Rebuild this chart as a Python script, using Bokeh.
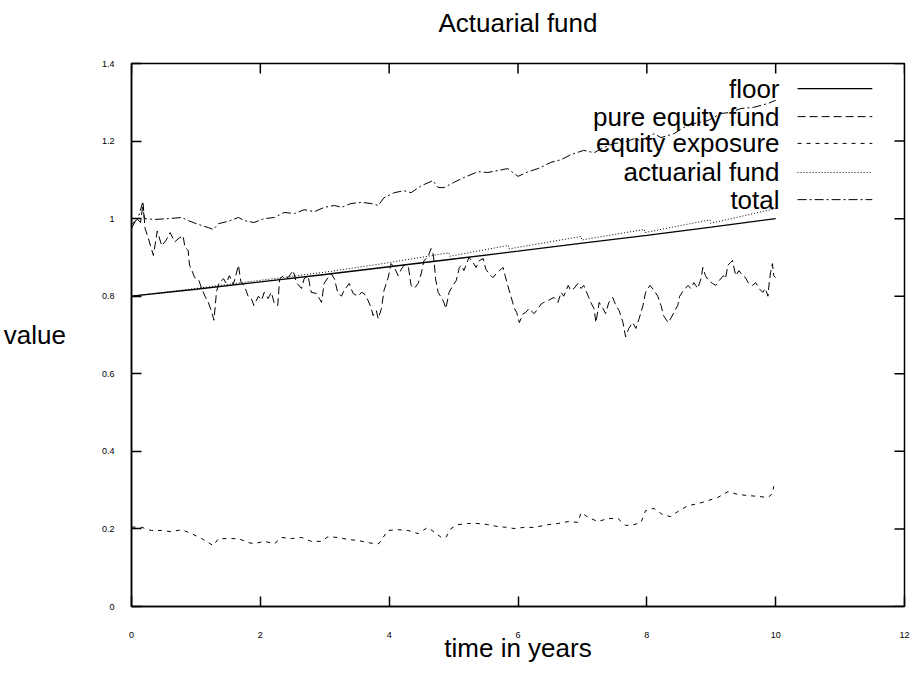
import math
from bokeh.plotting import figure
from bokeh.models import Range1d, FixedTicker, Label, LinearAxis
from bokeh.embed import file_html
from bokeh.resources import INLINE

# ---------------- data ----------------
x_ticks = [0, 2, 4, 6, 8, 10, 12]
x_tick_labels = ["0", "2", "4", "6", "8", "10", "12"]
y_ticks = [0, 0.2, 0.4, 0.6, 0.8, 1.0, 1.2, 1.4]
y_tick_labels = ["0", "0.2", "0.4", "0.6", "0.8", "1", "1.2", "1.4"]

floor_t = [0, 1, 2, 3, 4, 5, 6, 7, 8, 9, 10]
floor_v = [0.800, 0.818, 0.837, 0.856, 0.876, 0.896, 0.916, 0.937, 0.957, 0.978, 1.000]

equity_t = [0.00, 0.08, 0.14, 0.18, 0.21, 0.26, 0.34, 0.40, 0.47, 0.54, 0.60, 0.67, 0.74, 0.80,
            0.83, 0.88, 0.90, 0.93, 0.98, 1.04, 1.09, 1.14, 1.19, 1.24, 1.28, 1.32, 1.36, 1.43,
            1.47, 1.52, 1.58, 1.63, 1.66, 1.70, 1.75, 1.81, 1.86, 1.90, 1.97, 2.02, 2.06, 2.12,
            2.17, 2.22, 2.27, 2.30, 2.36, 2.43, 2.51, 2.56, 2.64, 2.68, 2.74, 2.79, 2.87, 2.95,
            2.99, 3.05, 3.10, 3.15, 3.20, 3.26, 3.30, 3.38, 3.44, 3.52, 3.57, 3.61, 3.67, 3.72,
            3.75, 3.80, 3.83, 3.88, 3.92, 3.98, 4.03, 4.08, 4.14, 4.19, 4.23, 4.30, 4.34, 4.39,
            4.45, 4.50, 4.54, 4.60, 4.65, 4.68, 4.70, 4.72, 4.76, 4.81, 4.85, 4.88, 4.93, 4.99,
            5.04, 5.09, 5.12, 5.16, 5.24, 5.30, 5.35, 5.40, 5.46, 5.50, 5.55, 5.61, 5.66, 5.71,
            5.77, 5.80, 5.84, 5.89, 5.94, 5.98, 6.02, 6.08, 6.12, 6.17, 6.25, 6.31, 6.36, 6.40,
            6.48, 6.56, 6.62, 6.67, 6.71, 6.78, 6.82, 6.87, 6.93, 6.98, 7.02, 7.09, 7.13, 7.18,
            7.21, 7.26, 7.32, 7.36, 7.41, 7.47, 7.52, 7.57, 7.63, 7.67, 7.72, 7.78, 7.83, 7.88,
            7.94, 7.98, 8.05, 8.11, 8.17, 8.22, 8.26, 8.33, 8.37, 8.42, 8.48, 8.51, 8.57, 8.64,
            8.68, 8.73, 8.79, 8.84, 8.87, 8.91, 8.96, 9.02, 9.07, 9.12, 9.19, 9.22, 9.26, 9.30,
            9.33, 9.38, 9.43, 9.49, 9.53, 9.58, 9.64, 9.69, 9.74, 9.80, 9.84, 9.88, 9.90, 9.92,
            9.95, 9.97, 10.00]
equity_v = [0.975, 1.000, 0.990, 1.040, 0.975, 0.950, 0.905, 0.968, 0.930, 0.945, 0.964, 0.940, 0.950, 0.956,
            0.926, 0.918, 0.880, 0.870, 0.848, 0.843, 0.820, 0.800, 0.785, 0.762, 0.738, 0.812, 0.835, 0.845,
            0.833, 0.853, 0.830, 0.860, 0.880, 0.835, 0.828, 0.800, 0.794, 0.776, 0.800, 0.790, 0.810, 0.794,
            0.810, 0.780, 0.776, 0.845, 0.853, 0.848, 0.866, 0.835, 0.820, 0.845, 0.853, 0.810, 0.807, 0.784,
            0.833, 0.848, 0.858, 0.845, 0.810, 0.800, 0.815, 0.833, 0.807, 0.800, 0.810, 0.807, 0.790, 0.770,
            0.750, 0.763, 0.742, 0.768, 0.815, 0.845, 0.884, 0.874, 0.853, 0.870, 0.880, 0.874, 0.828, 0.820,
            0.833, 0.860, 0.892, 0.900, 0.923, 0.910, 0.887, 0.845, 0.810, 0.797, 0.784, 0.768, 0.810, 0.828,
            0.840, 0.874, 0.880, 0.866, 0.900, 0.887, 0.874, 0.892, 0.897, 0.870, 0.858, 0.848, 0.858, 0.866,
            0.874, 0.853, 0.828, 0.800, 0.770, 0.758, 0.732, 0.755, 0.758, 0.768, 0.755, 0.768, 0.780, 0.784,
            0.790, 0.797, 0.784, 0.810, 0.800, 0.828, 0.815, 0.820, 0.833, 0.820, 0.828, 0.800, 0.784, 0.768,
            0.732, 0.784, 0.768, 0.755, 0.784, 0.797, 0.776, 0.763, 0.732, 0.695, 0.717, 0.732, 0.717, 0.742,
            0.776, 0.810, 0.828, 0.815, 0.800, 0.776, 0.750, 0.732, 0.742, 0.758, 0.776, 0.800, 0.815, 0.828,
            0.820, 0.835, 0.820, 0.845, 0.874, 0.853, 0.840, 0.833, 0.828, 0.840, 0.853, 0.845, 0.880, 0.887,
            0.892, 0.853, 0.866, 0.853, 0.848, 0.833, 0.828, 0.835, 0.820, 0.810, 0.820, 0.800, 0.835, 0.860,
            0.884, 0.853, 0.848]

exposure_t = [0.00, 0.16, 0.31, 0.47, 0.62, 0.78, 0.93, 1.09, 1.19, 1.27, 1.35, 1.50, 1.66, 1.81,
              1.90, 2.06, 2.22, 2.33, 2.48, 2.64, 2.79, 2.95, 3.05, 3.20, 3.36, 3.52, 3.67, 3.77,
              3.84, 3.98, 4.14, 4.29, 4.45, 4.60, 4.73, 4.81, 4.88, 4.96, 5.07, 5.22, 5.38, 5.53,
              5.69, 5.84, 5.94, 6.09, 6.25, 6.47, 6.62, 6.78, 6.93, 6.98, 7.10, 7.24, 7.40, 7.55,
              7.67, 7.80, 7.91, 7.98, 8.11, 8.26, 8.37, 8.50, 8.64, 8.79, 8.95, 9.10, 9.26, 9.41,
              9.57, 9.72, 9.88, 9.95, 9.97]
exposure_v = [0.205, 0.204, 0.196, 0.196, 0.193, 0.198, 0.188, 0.175, 0.165, 0.157, 0.175, 0.175, 0.175, 0.165,
              0.162, 0.168, 0.162, 0.178, 0.175, 0.178, 0.168, 0.168, 0.180, 0.178, 0.173, 0.170, 0.165, 0.162,
              0.162, 0.196, 0.198, 0.196, 0.188, 0.204, 0.188, 0.178, 0.178, 0.201, 0.211, 0.214, 0.214, 0.211,
              0.206, 0.204, 0.201, 0.204, 0.204, 0.211, 0.214, 0.219, 0.217, 0.242, 0.229, 0.219, 0.227, 0.227,
              0.209, 0.211, 0.217, 0.247, 0.253, 0.235, 0.232, 0.247, 0.260, 0.265, 0.273, 0.281, 0.296, 0.289,
              0.286, 0.284, 0.281, 0.291, 0.310]

actuarial_t = [0.00, 1.00, 2.00, 3.00, 3.90, 4.93, 4.94, 5.85, 5.86, 6.98, 6.99, 7.96, 7.97, 8.98, 8.99, 10.00]
actuarial_v = [0.800, 0.820, 0.841, 0.862, 0.884, 0.912, 0.903, 0.931, 0.922, 0.954, 0.945, 0.972, 0.964, 0.997, 0.988, 1.026]

total_t = [0.00, 0.10, 0.17, 0.20, 0.36, 0.57, 0.78, 0.88, 1.04, 1.19, 1.27, 1.35, 1.50, 1.66,
           1.75, 1.90, 2.06, 2.22, 2.37, 2.53, 2.68, 2.84, 2.99, 3.15, 3.26, 3.41, 3.57, 3.72,
           3.83, 3.92, 4.08, 4.23, 4.34, 4.50, 4.68, 4.76, 4.85, 5.00, 5.16, 5.38, 5.53, 5.69,
           5.84, 6.00, 6.16, 6.31, 6.51, 6.67, 6.82, 7.02, 7.18, 7.33, 7.49, 7.64, 7.80, 7.91,
           8.11, 8.22, 8.42, 8.57, 8.73, 8.95, 9.15, 9.30, 9.46, 9.66, 9.88, 10.00]
total_v = [0.985, 1.000, 1.040, 1.000, 0.998, 1.000, 1.003, 0.995, 0.985, 0.977, 0.972, 0.987, 0.993, 1.003,
           0.995, 0.990, 1.000, 1.003, 1.016, 1.013, 1.023, 1.018, 1.029, 1.034, 1.029, 1.039, 1.042, 1.039,
           1.034, 1.054, 1.067, 1.072, 1.067, 1.085, 1.098, 1.080, 1.080, 1.093, 1.106, 1.121, 1.119, 1.124,
           1.129, 1.109, 1.121, 1.129, 1.145, 1.152, 1.165, 1.176, 1.170, 1.183, 1.194, 1.196, 1.206, 1.201,
           1.219, 1.209, 1.219, 1.235, 1.245, 1.253, 1.271, 1.274, 1.284, 1.287, 1.297, 1.305]

series_names = ["floor", "pure equity fund", "equity exposure", "actuarial fund", "total"]
series_dash = ["solid", "8 4", "4 5", "1 2", "9 3 2 3"]
chart_title = "Actuarial fund"

# ---------------- figure ----------------
FONT = "Liberation Sans"
BIG = "26px"
p = figure(width=910, height=684, output_backend="svg", toolbar_location=None,
           x_range=Range1d(0, 12), y_range=Range1d(0, 1.4),
           min_border_left=130, min_border_right=6, min_border_top=63, min_border_bottom=78)
p.grid.visible = False
p.outline_line_color = "black"
p.outline_line_width = 1.5
p.background_fill_color = "white"
p.border_fill_color = "white"

def style_axis(ax, ticks, labels):
    ax.ticker = FixedTicker(ticks=ticks)
    ax.major_label_overrides = {t: l for t, l in zip(ticks, labels)}
    ax.major_tick_in = 10
    ax.major_tick_out = 0
    ax.minor_tick_in = 0
    ax.minor_tick_out = 0
    ax.major_tick_line_color = "black"
    ax.major_tick_line_width = 1.5
    ax.axis_line_color = "black"
    ax.axis_line_width = 1.5
    ax.major_label_text_font = FONT
    ax.major_label_text_color = "black"
    ax.major_label_text_font_size = "9px"
    ax.axis_label_text_font = FONT
    ax.axis_label_text_font_size = BIG
    ax.axis_label_text_font_style = "normal"
    ax.axis_label_text_color = "black"

xa = p.xaxis[0]
ya = p.yaxis[0]
style_axis(xa, x_ticks, x_tick_labels)
style_axis(ya, y_ticks, y_tick_labels)
xa.major_label_standoff = 25
ya.major_label_standoff = 17
xa.axis_label = "time in years"
xa.axis_label_standoff = -8
ya.axis_label = "value"
ya.axis_label_standoff = 33
try:
    ya.axis_label_orientation = "horizontal"
except Exception:
    pass

# title as the label of a tick-less axis above the frame
top = LinearAxis(ticker=FixedTicker(ticks=[]))
top.major_tick_in = 0
top.major_tick_out = 0
top.minor_tick_in = 0
top.minor_tick_out = 0
top.major_label_standoff = 0
top.axis_line_color = None
top.axis_label = chart_title
top.axis_label_standoff = 26
top.axis_label_text_font = FONT
top.axis_label_text_font_size = BIG
top.axis_label_text_font_style = "normal"
top.axis_label_text_color = "black"
p.add_layout(top, "above")

# mirrored inward ticks on the top and right edges (gnuplot style)
p.ray(x=x_ticks, y=[1.4] * len(x_ticks), length=10, length_units="screen",
      angle=-math.pi / 2, line_color="black", line_width=1.5)
p.ray(x=[12] * len(y_ticks), y=y_ticks, length=10, length_units="screen",
      angle=math.pi, line_color="black", line_width=1.5)

lw = 1.0
p.line(floor_t, floor_v, line_color="black", line_width=1.3, line_dash=series_dash[0])
p.line(equity_t, equity_v, line_color="black", line_width=lw, line_dash=series_dash[1])
p.line(exposure_t, exposure_v, line_color="black", line_width=lw, line_dash=series_dash[2])
p.line(actuarial_t, actuarial_v, line_color="black", line_width=lw, line_dash=series_dash[3])
p.line(total_t, total_v, line_color="black", line_width=lw, line_dash=series_dash[4])

# legend (gnuplot style: text right-aligned, sample to the right)
legend_y = [1.335, 1.263, 1.194, 1.119, 1.049]
for name, dash, ly in zip(series_names, series_dash, legend_y):
    p.add_layout(Label(x=10.06, y=ly, text=name, text_align="right", text_baseline="middle",
                       text_font=FONT, text_font_size=BIG, text_color="black"))
    p.line([10.34, 11.5], [ly, ly], line_color="black", line_width=1.3 if dash == "solid" else 1.0,
           line_dash=dash)

open("out.html", "w").write(file_html(p, INLINE))
